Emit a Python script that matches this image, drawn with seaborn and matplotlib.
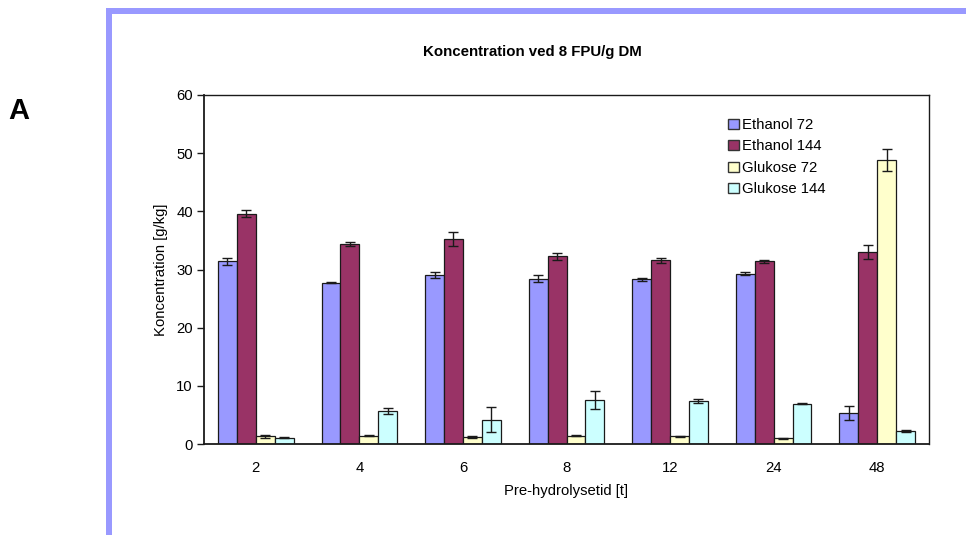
import matplotlib
matplotlib.use("Agg")
import matplotlib.pyplot as plt
import seaborn as sns
import pandas as pd
import numpy as np
from matplotlib.patches import Rectangle

categories = ["2", "4", "6", "8", "12", "24", "48"]
series = ["Ethanol 72", "Ethanol 144", "Glukose 72", "Glukose 144"]
ethanol72 = [31.4, 27.7, 29.1, 28.4, 28.3, 29.3, 5.4]
ethanol144 = [39.6, 34.4, 35.3, 32.3, 31.6, 31.4, 33.0]
glukose72 = [1.3, 1.4, 1.2, 1.4, 1.3, 1.0, 48.8]
glukose144 = [1.1, 5.7, 4.2, 7.6, 7.4, 6.9, 2.2]
err_e72 = [0.6, 0.1, 0.5, 0.6, 0.2, 0.2, 1.2]
err_e144 = [0.6, 0.4, 1.2, 0.6, 0.4, 0.2, 1.2]
err_g72 = [0.2, 0.1, 0.1, 0.1, 0.1, 0.1, 1.9]
err_g144 = [0.1, 0.5, 2.2, 1.5, 0.4, 0.1, 0.2]

values = [ethanol72, ethanol144, glukose72, glukose144]
errors = [err_e72, err_e144, err_g72, err_g144]
colors = ["#9999FF", "#993366", "#FFFFCC", "#CCFFFF"]

rows = []
for s, vals, errs in zip(series, values, errors):
    for c, v, e in zip(categories, vals, errs):
        rows.append({"Pre-hydrolysetid": c, "Serie": s, "Koncentration": v, "err": e})
df = pd.DataFrame(rows)

sns.set_theme(style="white")
plt.rcParams["font.family"] = ["Liberation Sans", "DejaVu Sans"]
plt.rcParams["text.color"] = "black"
plt.rcParams["axes.labelcolor"] = "black"
plt.rcParams["xtick.color"] = "black"
plt.rcParams["ytick.color"] = "black"

FS = 10.7

fig = plt.figure(figsize=(9.66, 5.35), dpi=100)
ax = fig.add_axes([204 / 966, 1 - 444 / 535, (929 - 204) / 966, (444 - 95) / 535])

sns.barplot(data=df, x="Pre-hydrolysetid", y="Koncentration", hue="Serie",
            order=categories, hue_order=series, palette=colors,
            errorbar=None, width=0.73, saturation=1, ax=ax,
            edgecolor="#1a1a1a", linewidth=0.9)

# error bars positioned on the bars
for container, errs in zip(ax.containers, errors):
    xs = [p.get_x() + p.get_width() / 2 for p in container.patches]
    hs = [p.get_height() for p in container.patches]
    ax.errorbar(xs, hs, yerr=errs, fmt="none", ecolor="#1a1a1a",
                elinewidth=1.0, capsize=3.5, capthick=1.0, zorder=5)

ax.set_ylim(0, 60)
ax.set_yticks(range(0, 61, 10))
ax.set_xlim(-0.5, len(categories) - 0.5)
ax.set_xticks(range(len(categories)))
ax.set_xticklabels(categories)
ax.set_xticks(np.arange(-0.5, len(categories), 1.0), minor=True)
ax.tick_params(axis="x", which="major", length=0, labelsize=FS, pad=12)
ax.tick_params(axis="x", which="minor", length=5, width=1, color="#1a1a1a", direction="out")
ax.tick_params(axis="y", length=5, width=1, color="#1a1a1a", direction="out",
               labelsize=FS, left=True, pad=3)
for sp in ax.spines.values():
    sp.set_visible(True)
    sp.set_color("#1a1a1a")
    sp.set_linewidth(1.0)
ax.spines["left"].set_linewidth(1.3)
ax.spines["bottom"].set_linewidth(1.3)

ax.set_xlabel("Pre-hydrolysetid [t]", fontsize=FS, labelpad=7)
ax.set_ylabel("Koncentration [g/kg]", fontsize=FS, labelpad=6)

leg = ax.legend(loc="upper left", bbox_to_anchor=(0.715, 0.951), frameon=False,
                fontsize=FS, handlelength=0.7, handleheight=0.7,
                handletextpad=0.25, labelspacing=0.5, borderaxespad=0)
for h in leg.legend_handles:
    h.set_edgecolor("#333333")
    h.set_linewidth(1.0)

fig.text(532 / 966, 1 - 52 / 535, "Koncentration ved 8 FPU/g DM",
         ha="center", va="center", fontsize=10.8, fontweight="bold")
fig.text(19 / 966, 1 - 111 / 535, "A", ha="center", va="center",
         fontsize=21, fontweight="bold")

# blue frame
fig.add_artist(Rectangle((106 / 966, 1 - 14 / 535), (966 - 106) / 966, 6 / 535,
                         transform=fig.transFigure, facecolor="#9999FF",
                         edgecolor="none"))
fig.add_artist(Rectangle((106 / 966, 0), 6 / 966, 1 - 8 / 535,
                         transform=fig.transFigure, facecolor="#9999FF",
                         edgecolor="none"))

fig.savefig("out.png", dpi=100)
